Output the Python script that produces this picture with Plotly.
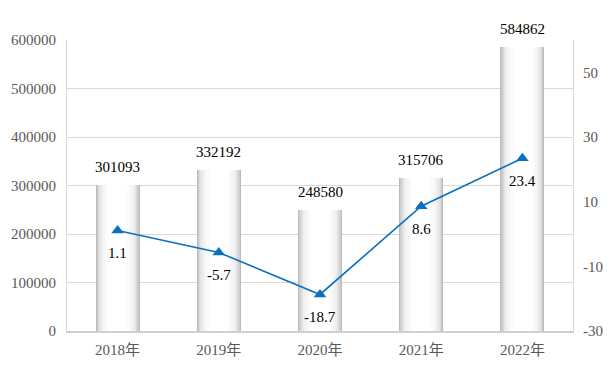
import plotly.graph_objects as go

years = ["2018年", "2019年", "2020年", "2021年", "2022年"]
values = [301093, 332192, 248580, 315706, 584862]
growth = [1.1, -5.7, -18.7, 8.6, 23.4]

left_ticks = [0, 100000, 200000, 300000, 400000, 500000, 600000]
right_ticks = [-30, -10, 10, 30, 50]

serif = "Liberation Serif, Times New Roman, Noto Sans CJK SC, serif"

fig = go.Figure()

full_w = 0.435
layers = [
    (1.00, "#bababa"),
    (0.95, "#cbcbcb"),
    (0.90, "#d9d9d9"),
    (0.84, "#e5e5e5"),
    (0.77, "#eeeeee"),
    (0.68, "#f5f5f5"),
    (0.56, "#fbfbfb"),
    (0.42, "#ffffff"),
]
for f, c in layers:
    fig.add_trace(go.Bar(
        x=years, y=values, width=full_w * f,
        marker=dict(color=c, line=dict(width=0)),
        showlegend=False, hoverinfo="skip",
    ))

fig.add_trace(go.Scatter(
    x=years, y=growth, yaxis="y2", mode="lines+markers",
    line=dict(color="#0a70c0", width=1.6),
    marker=dict(symbol="triangle-up", size=11, color="#0a70c0"),
    cliponaxis=False, showlegend=False, hoverinfo="skip",
))

for x, v in zip(years, values):
    fig.add_annotation(x=x, y=v, xref="x", yref="y", text=str(v),
                       showarrow=False, yshift=18,
                       font=dict(family=serif, size=15, color="#000000"))
for x, g in zip(years, growth):
    fig.add_annotation(x=x, y=g, xref="x", yref="y2", text=str(g),
                       showarrow=False, yshift=-23,
                       font=dict(family=serif, size=15, color="#000000"))

fig.update_layout(
    width=615, height=378,
    margin=dict(l=67, r=42, t=40, b=47),
    paper_bgcolor="#ffffff", plot_bgcolor="#ffffff",
    barmode="overlay", bargap=0,
    font=dict(family=serif, size=15, color="#595959"),
    hovermode=False,
    xaxis=dict(
        showgrid=False, showline=True, linecolor="#d0d0d0", linewidth=2,
        ticks="", tickfont=dict(family=serif, size=15, color="#595959"),
        fixedrange=True, automargin=False, ticklabelstandoff=4,
    ),
    yaxis=dict(
        range=[0, 600000], tickvals=left_ticks,
        ticktext=[str(t) for t in left_ticks],
        showgrid=True, gridcolor="#d9d9d9", gridwidth=1,
        showline=True, linecolor="#d9d9d9", linewidth=1,
        zeroline=False, ticks="", automargin=False, ticklabelstandoff=7,
        tickfont=dict(family=serif, size=15, color="#595959"),
    ),
    yaxis2=dict(
        range=[-30, 60], tickvals=right_ticks,
        ticktext=[str(t) for t in right_ticks],
        overlaying="y", side="right", showgrid=False,
        showline=True, linecolor="#d9d9d9", linewidth=1,
        zeroline=False, ticks="", automargin=False, ticklabelstandoff=6,
        tickfont=dict(family=serif, size=15, color="#595959"),
    ),
)

fig.write_html("out.html", config={"displayModeBar": False},
               post_script="document.body.style.margin='0';document.body.style.overflow='hidden';")
